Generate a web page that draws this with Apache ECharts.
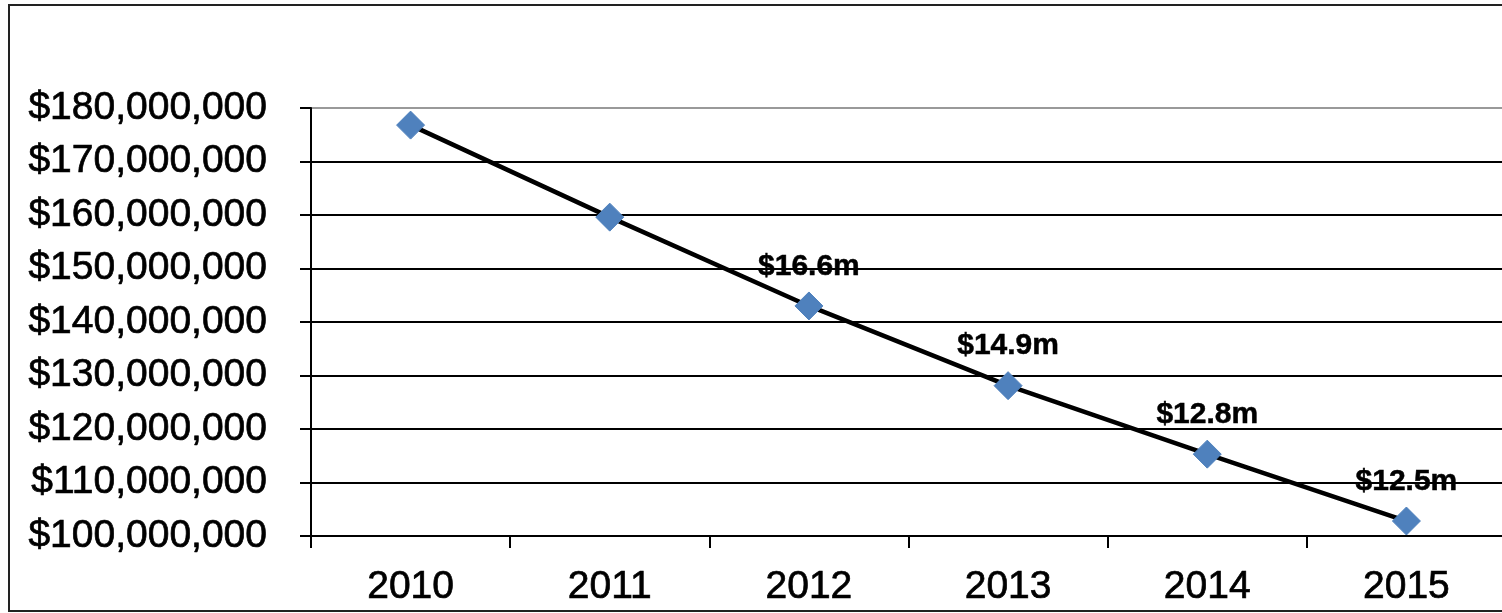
<!DOCTYPE html>
<html>
<head>
<meta charset="utf-8">
<script src="https://cdn.jsdelivr.net/npm/echarts@6/dist/echarts.min.js"></script>
<style>
  html, body { margin: 0; padding: 0; background: #fff; overflow: hidden; }
  #frame {
    position: absolute; left: 8px; top: 4px; width: 1510px; height: 608px;
    border: 2px solid #222; box-sizing: border-box;
  }
  /* plot runs slightly past the right edge of the window */
  #chart { position: absolute; left: 0; top: 0; width: 1506px; height: 613px; }
</style>
</head>
<body>
<div id="frame"></div>
<div id="chart"></div>
<script>
// Annual totals (USD)
const years = ['2010', '2011', '2012', '2013', '2014', '2015'];
const totals = [176800000, 159600000, 143000000, 128100000, 115300000, 102800000];
// Years annotated with the drop from the previous year
const annotatedYears = ['2012', '2013', '2014', '2015'];

const yMin = 100000000;
const yMax = 180000000;
const yStep = 10000000;

function money(v) {
  return '$' + v.toLocaleString('en-US');
}

function dropLabel(i) {
  if (i === 0 || annotatedYears.indexOf(years[i]) < 0) return '';
  const drop = (totals[i - 1] - totals[i]) / 1e6;
  return '$' + drop.toFixed(1) + 'm';
}

const gridColors = [];
for (let v = yMin; v <= yMax; v += yStep) gridColors.push(v === yMax ? '#999' : '#000');

const font = '"Liberation Sans", Arial, sans-serif';
const chart = echarts.init(document.getElementById('chart'), null, { renderer: 'canvas' });

chart.setOption({
  animation: false,
  backgroundColor: 'transparent',
  grid: { left: 311, right: 0, top: 108, bottom: 77 },
  xAxis: {
    type: 'category',
    data: years,
    boundaryGap: true,
    axisLine: { lineStyle: { color: '#000', width: 2 } },
    axisTick: { show: true, length: 12, lineStyle: { color: '#000', width: 2 } },
    axisLabel: {
      color: '#000', fontSize: 39, fontFamily: font, margin: 32,
      textBorderColor: '#000', textBorderWidth: 0.7
    },
    splitLine: { show: false }
  },
  yAxis: {
    type: 'value',
    min: yMin,
    max: yMax,
    interval: yStep,
    axisLine: { show: true, lineStyle: { color: '#000', width: 2 } },
    axisTick: { show: true, length: 11, lineStyle: { color: '#000', width: 2 } },
    axisLabel: {
      color: '#000', fontSize: 39, fontFamily: font, margin: 44, formatter: money,
      textBorderColor: '#000', textBorderWidth: 0.7
    },
    splitLine: { show: true, lineStyle: { color: gridColors, width: 2 } }
  },
  series: [{
    type: 'line',
    data: totals,
    symbol: 'diamond',
    symbolSize: 28,
    z: 3,
    lineStyle: { color: '#000', width: 4.5 },
    itemStyle: { color: '#4f81bd', borderColor: '#4f81bd' },
    label: {
      show: true,
      position: 'top',
      distance: 10,
      color: '#000',
      fontSize: 30,
      fontWeight: 'bold',
      fontFamily: font,
      textBorderColor: '#000',
      textBorderWidth: 0.5,
      formatter: p => dropLabel(p.dataIndex)
    }
  }]
});
</script>
</body>
</html>
